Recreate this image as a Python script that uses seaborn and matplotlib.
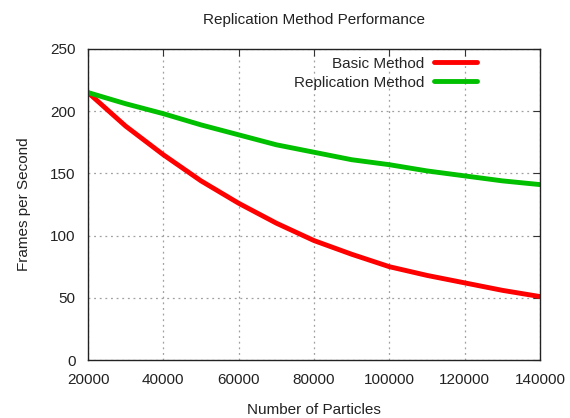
import pandas as pd
import numpy as np
import matplotlib
matplotlib.use("Agg")
import matplotlib.pyplot as plt
import seaborn as sns

# data
particles = [20000, 30000, 40000, 50000, 60000, 70000, 80000,
             90000, 100000, 110000, 120000, 130000, 140000]
basic_fps = [215, 188, 165, 144, 126, 110, 96, 85, 75, 68, 62, 56, 51]
replication_fps = [215, 206, 198, 189, 181, 173, 167, 161, 157, 152, 148, 144, 141]
series_names = ["Basic Method", "Replication Method"]
x_ticks = [20000, 40000, 60000, 80000, 100000, 120000, 140000]
y_ticks = [0, 50, 100, 150, 200, 250]

df = pd.DataFrame({
    "particles": particles * 2,
    "fps": basic_fps + replication_fps,
    "method": [series_names[0]] * len(particles) + [series_names[1]] * len(particles),
})

sns.set_style("white")
plt.rcParams["font.family"] = ["Liberation Sans", "DejaVu Sans"]
plt.rcParams["font.size"] = 11

fig = plt.figure(figsize=(5.7, 4.18), dpi=100)
ax = fig.add_axes([88 / 570, 1 - 360 / 418, 452 / 570, 311 / 418])

sns.lineplot(data=df, x="particles", y="fps", hue="method",
             palette={series_names[0]: "#ff0000", series_names[1]: "#00c000"},
             linewidth=3.5, ax=ax, legend=False)

ax.set_xlim(20000, 140000)
ax.set_ylim(0, 250)
ax.set_xticks(x_ticks)
ax.set_yticks(y_ticks)
ax.set_xticklabels([str(t) for t in x_ticks])
ax.set_yticklabels([str(t) for t in y_ticks])
ax.tick_params(direction="in", length=5, width=0.8, color="#333333",
               top=True, right=True, labelsize=11, colors="#222222")
ax.tick_params(axis="x", pad=9)
ax.tick_params(axis="y", pad=9)

ax.grid(True, linestyle=(0, (1.5, 3)), color="#a0a0a0", linewidth=0.9)
for s in ax.spines.values():
    s.set_color("#222222")
    s.set_linewidth(1.0)

ax.set_title("Replication Method Performance", fontsize=11, pad=18, color="#222222")
ax.set_xlabel("Number of Particles", fontsize=11, labelpad=12, color="#222222")
ax.set_ylabel("Frames per Second", fontsize=11, labelpad=14, color="#222222")

handles = [plt.Line2D([], [], color="#ff0000", lw=3.5),
           plt.Line2D([], [], color="#00c000", lw=3.5)]
ax.legend(handles, series_names, loc="upper right", bbox_to_anchor=(0.861, 0.975),
          frameon=False, markerfirst=False, borderpad=0, borderaxespad=0,
          handlelength=2.8, handletextpad=0.65, labelspacing=0.32, fontsize=11)

fig.savefig("out.png", dpi=100)
